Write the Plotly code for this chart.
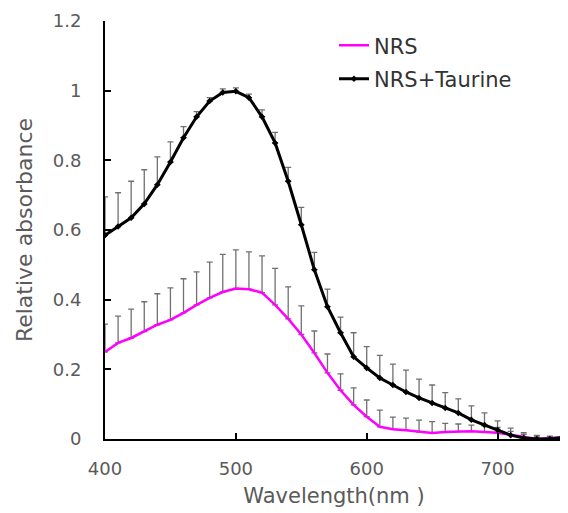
import plotly.graph_objects as go

# wavelength (nm), sampled every 10 nm
wavelength = list(range(400, 760, 10))

nrs = [0.25, 0.276, 0.29, 0.308, 0.328, 0.342, 0.362, 0.385, 0.405, 0.422,
       0.432, 0.43, 0.42, 0.385, 0.345, 0.300, 0.247, 0.19, 0.14, 0.098,
       0.064, 0.035, 0.028, 0.025, 0.02, 0.017, 0.02, 0.022, 0.022, 0.02,
       0.018, 0.012, 0.005, 0.0, 0.003, 0.005]
nrs_err = [0.08, 0.077, 0.083, 0.086, 0.089, 0.092, 0.098, 0.095, 0.103, 0.108,
           0.111, 0.107, 0.106, 0.105, 0.092, 0.082, 0.063, 0.054, 0.047, 0.049,
           0.048, 0.048, 0.035, 0.035, 0.034, 0.033, 0.025, 0.021, 0.018, 0.018,
           0.015, 0.01, 0.008, 0.006, 0.004, 0.003]

taurine = [0.585, 0.61, 0.635, 0.675, 0.73, 0.795, 0.865, 0.925, 0.97, 0.995,
           0.998, 0.98, 0.925, 0.85, 0.74, 0.615, 0.486, 0.38, 0.305, 0.236,
           0.204, 0.175, 0.155, 0.135, 0.118, 0.103, 0.089, 0.075, 0.055, 0.04,
           0.026, 0.011, 0.003, 0.0, 0.0, 0.005]
taurine_err = [0.11, 0.097, 0.105, 0.098, 0.08, 0.058, 0.032, 0.015, 0.01, 0.01,
               0.01, 0.01, 0.02, 0.03, 0.04, 0.05, 0.05, 0.05, 0.045, 0.069,
               0.061, 0.065, 0.06, 0.063, 0.054, 0.052, 0.044, 0.04, 0.04, 0.035,
               0.026, 0.02, 0.015, 0.01, 0.008, 0.005]

x_ticks = [400, 500, 600, 700]
y_ticks = [0, 0.2, 0.4, 0.6, 0.8, 1, 1.2]

grey = '#5a5a5a'
fnt = 'DejaVu Sans, sans-serif'

fig = go.Figure()

fig.add_trace(go.Scatter(
    x=wavelength, y=nrs, name='NRS', mode='lines',
    line=dict(color='#ff00ff', width=2.5),
    legendgroup='a',
    error_y=dict(type='data', symmetric=False, array=nrs_err,
                 arrayminus=[0] * len(nrs_err), color='#707070',
                 thickness=1.3, width=3),
))

fig.add_trace(go.Scatter(
    x=wavelength, y=taurine, name='NRS+Taurine', mode='lines+markers',
    line=dict(color='black', width=3),
    marker=dict(symbol='diamond', size=5, color='black'),
    legendgroup='b',
    error_y=dict(type='data', symmetric=False, array=taurine_err,
                 arrayminus=[0] * len(taurine_err), color='#707070',
                 thickness=1.3, width=3),
))

# page body has an 8px margin, so the figure is a bit smaller than the window
fig.update_layout(
    width=560, height=505,
    margin=dict(l=97, r=5, t=13, b=74),
    paper_bgcolor='white', plot_bgcolor='white',
    font=dict(family=fnt, color=grey, size=18),
    showlegend=True,
    legend=dict(
        x=0.5, y=0.99, xanchor='left', yanchor='top',
        font=dict(size=21, color='#333333'),
        traceorder='grouped', tracegroupgap=3,
        itemwidth=30,
        bgcolor='rgba(0,0,0,0)',
    ),
    xaxis=dict(
        range=[400, 750], tickvals=x_ticks, automargin=False,
        showline=True, linecolor='black', linewidth=2,
        ticks='inside', ticklen=6, tickwidth=2, tickcolor='black',
        showgrid=False, zeroline=False, ticklabelstandoff=12,
        title=dict(text='Wavelength(nm )', font=dict(size=21, color=grey), standoff=11),
    ),
    yaxis=dict(
        range=[0, 1.2], tickvals=y_ticks, automargin=False,
        ticktext=['0', '0.2', '0.4', '0.6', '0.8', '1', '1.2'],
        showline=True, linecolor='black', linewidth=2,
        ticks='inside', ticklen=6, tickwidth=2, tickcolor='black',
        showgrid=False, zeroline=False, ticklabelstandoff=18,
        title=dict(text='Relative absorbance', font=dict(size=22, color=grey), standoff=14),
    ),
)

fig.write_html("out.html")
